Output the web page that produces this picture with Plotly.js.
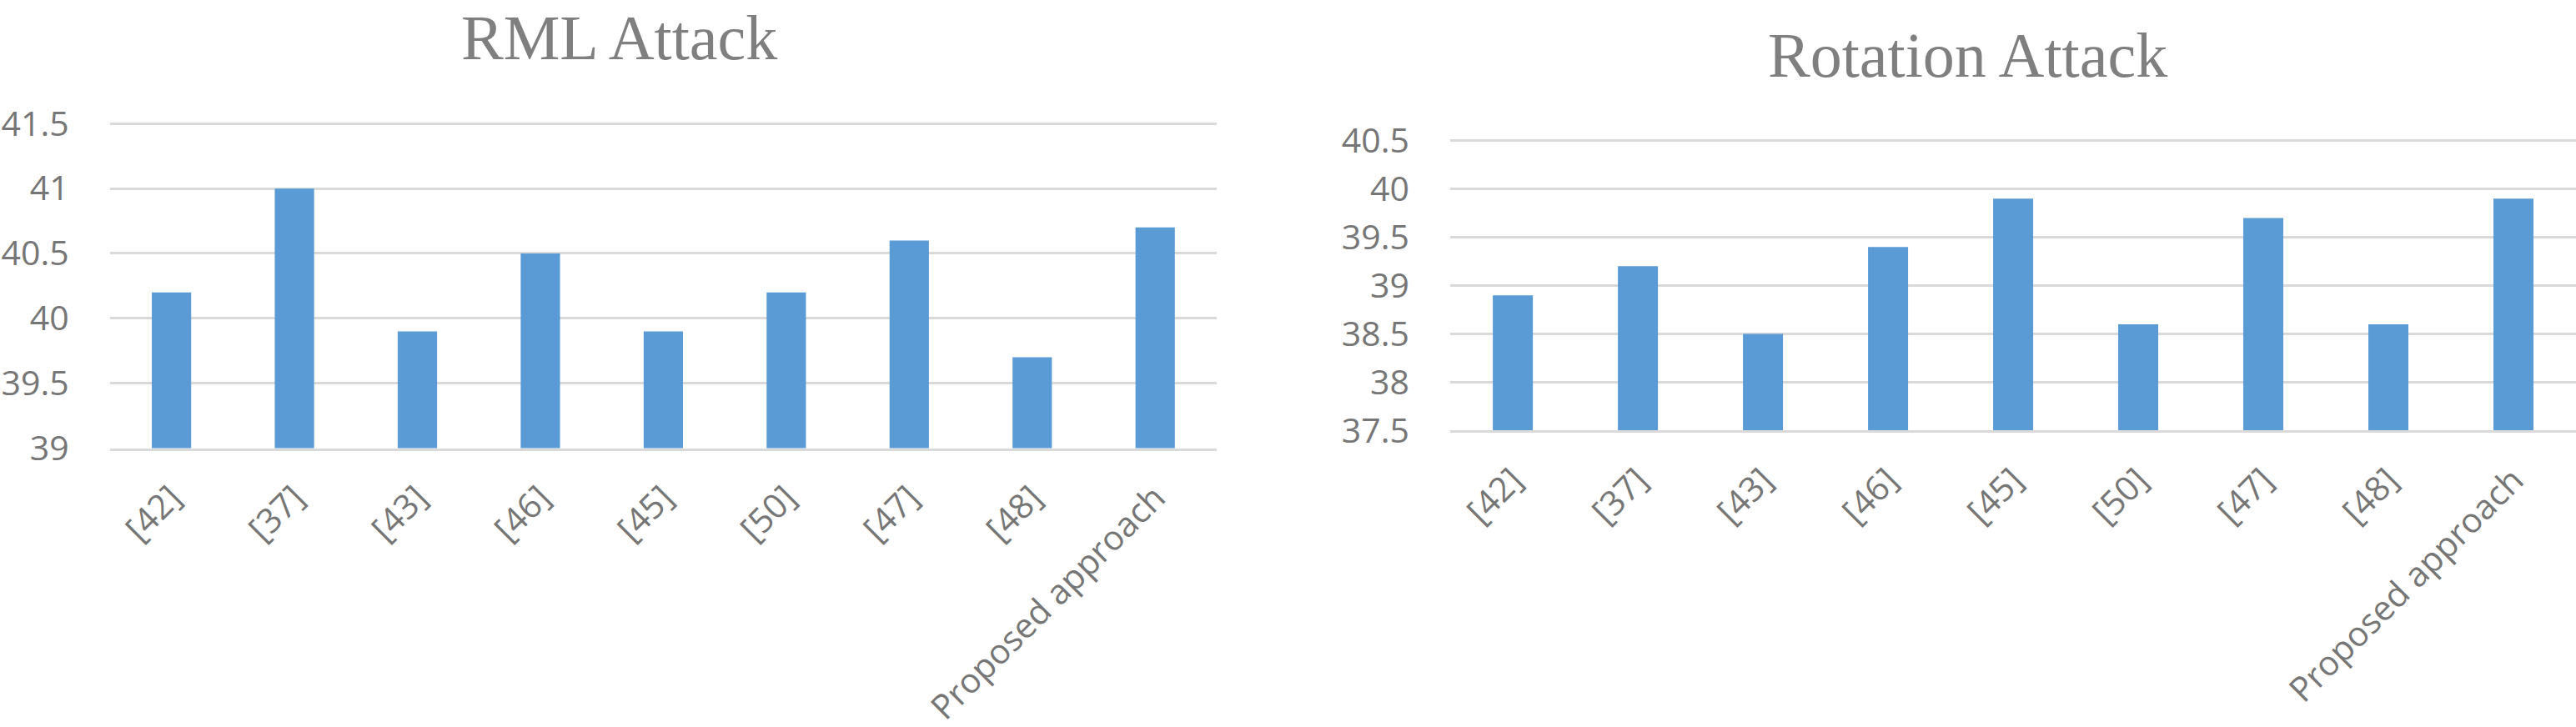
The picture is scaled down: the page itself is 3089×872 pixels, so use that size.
<!DOCTYPE html>
<html lang="en">
<head>
  <meta charset="UTF-8" />
  <title>RML and Rotation Attack</title>
  <script src="https://cdn.plot.ly/plotly-3.0.1.min.js"></script>
  <style>
    body { margin: 0; background: #fff; }
    #chart { width: 3089px; height: 872px; }
  </style>
</head>
<body>
  <div id="chart"></div>
  <script>
    // categories shared by both charts
    const methods = ['[42]', '[37]', '[43]', '[46]', '[45]', '[50]', '[47]', '[48]', 'Proposed approach'];
    // values
    const rmlValues = [40.2, 41.0, 39.9, 40.5, 39.9, 40.2, 40.6, 39.7, 40.7];
    const rotationValues = [38.9, 39.2, 38.5, 39.4, 39.9, 38.6, 39.7, 38.6, 39.9];

    const barColor = '#5b9bd5';
    const gridColor = '#d9d9d9';
    const tickFont = { family: 'Open Sans, Liberation Sans, sans-serif', size: 41, color: '#767676' };
    const titleFont = { family: 'Liberation Serif, Times New Roman, serif', size: 76, color: '#7f7f7f' };

    const traces = [
      { x: methods, y: rmlValues, type: 'bar', marker: { color: barColor }, xaxis: 'x', yaxis: 'y' },
      { x: methods, y: rotationValues, type: 'bar', marker: { color: barColor }, xaxis: 'x2', yaxis: 'y2' }
    ];

    function xAxis(domain, anchor) {
      return {
        domain: domain, anchor: anchor,
        tickangle: -45, tickfont: tickFont,
        ticks: 'outside', ticklen: 16, tickcolor: 'rgba(0,0,0,0)',
        showline: true, linecolor: gridColor, linewidth: 3,
        showgrid: false, automargin: false, fixedrange: true
      };
    }

    // top of the range pushed up a little, otherwise plotly drops the top gridline
    function yAxis(domain, anchor, range) {
      return {
        domain: domain, anchor: anchor, range: [range[0], range[1] + 0.02], dtick: 0.5, tick0: range[0],
        tickfont: tickFont,
        ticks: 'outside', ticklen: 40, tickcolor: 'rgba(0,0,0,0)',
        showgrid: true, gridcolor: gridColor, gridwidth: 3,
        zeroline: false, showline: false, automargin: false, fixedrange: true
      };
    }

    const layout = {
      width: 3089, height: 872,
      margin: { l: 0, r: 0, t: 0, b: 0 },
      paper_bgcolor: '#fff', plot_bgcolor: '#fff',
      showlegend: false,
      bargap: 0.68,
      xaxis: xAxis([0.0427, 0.4723], 'y'),
      yaxis: yAxis([0.3836, 0.8335], 'x', [39, 41.5]),
      xaxis2: xAxis([0.563, 1], 'y2'),
      yaxis2: yAxis([0.4077, 0.8093], 'x2', [37.5, 40.5]),
      annotations: [
        { text: 'RML Attack', xref: 'paper', yref: 'paper', x: 0.2405, y: 0.999,
          xanchor: 'center', yanchor: 'top', showarrow: false, font: titleFont },
        { text: 'Rotation Attack', xref: 'paper', yref: 'paper', x: 0.764, y: 0.975,
          xanchor: 'center', yanchor: 'top', showarrow: false, font: titleFont }
      ]
    };

    Plotly.newPlot('chart', traces, layout, { displayModeBar: false, staticPlot: true });
  </script>
</body>
</html>
